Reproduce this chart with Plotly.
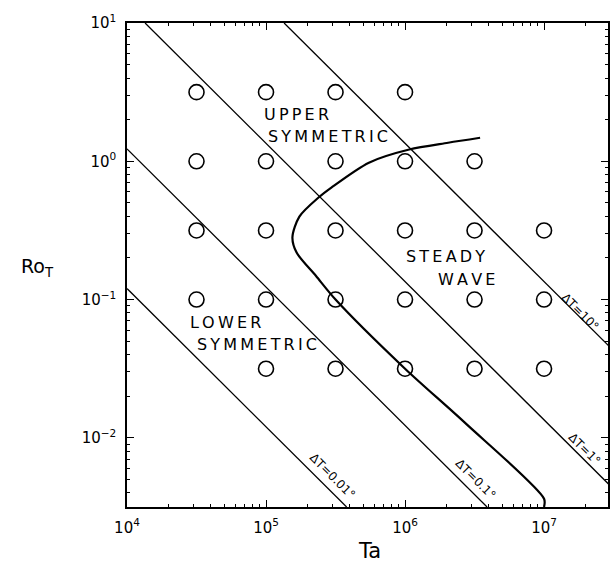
import plotly.graph_objects as go

# ---- data (log10 values) ----
circle_logTa = [4.5, 5, 5.5, 6,
                4.5, 5, 5.5, 6, 6.5,
                4.5, 5, 5.5, 6, 6.5, 7,
                4.5, 5, 5.5, 6, 6.5, 7,
                5, 5.5, 6, 6.5, 7]
circle_logRo = [0.5, 0.5, 0.5, 0.5,
                0, 0, 0, 0, 0,
                -0.5, -0.5, -0.5, -0.5, -0.5, -0.5,
                -1, -1, -1, -1, -1, -1,
                -1.5, -1.5, -1.5, -1.5, -1.5]

# constant-deltaT lines: endpoints where they meet the frame
dT_labels = ["ΔT=0.01°", "ΔT=0.1°", "ΔT=1°", "ΔT=10°"]
dT_logTa = [[4.0, 5.58], [4.0, 6.59], [4.13, 7.48], [5.13, 7.48]]
dT_logRo = [[-0.92, -2.5], [0.09, -2.5], [1.0, -2.35], [1.0, -1.35]]
dT_label_logTa = [5.475, 6.505, 7.29, 7.26]
dT_label_logRo = [-2.278, -2.30, -2.08, -1.087]

# regime boundary curve
curve_logTa = [6.54, 6.31, 6.03, 5.74, 5.47, 5.38, 5.24, 5.19, 5.22, 5.36,
               5.50, 6.0, 6.43, 7.0, 7.0]
curve_logRo = [0.17, 0.134, 0.085, -0.01, -0.19, -0.26, -0.40, -0.55, -0.66, -0.83,
               -1.0, -1.5, -1.89, -2.44, -2.5]

regions = [("UPPER", 4.97, 0.336, "left"), ("SYMMETRIC", 5.0, 0.177, "left"),
           ("STEADY", 6.29, -0.69, "center"), ("WAVE", 6.44, -0.856, "center"),
           ("LOWER", 4.437, -1.166, "left"), ("SYMMETRIC", 4.487, -1.325, "left")]

x_tick_exp = [4, 5, 6, 7]
x_tick_text = ["10<sup>4</sup>", "10<sup>5</sup>", "10<sup>6</sup>", "10<sup>7</sup>"]
y_tick_exp = [-2, -1, 0, 1]
y_tick_text = ["10<sup>−2</sup>", "10<sup>−1</sup>", "10<sup>0</sup>", "10<sup>1</sup>"]

FONT = "DejaVu Sans"


def spaced(s):
    return "\u2009".join(s)


fig = go.Figure()
for tx, ry in zip(dT_logTa, dT_logRo):
    fig.add_trace(go.Scatter(x=[10 ** v for v in tx], y=[10 ** v for v in ry],
                             mode="lines", line=dict(color="black", width=1.3),
                             showlegend=False, hoverinfo="skip"))
fig.add_trace(go.Scatter(x=[10 ** v for v in curve_logTa], y=[10 ** v for v in curve_logRo],
                         mode="lines", line=dict(color="black", width=2.2, shape="spline", smoothing=0.8),
                         showlegend=False))
fig.add_trace(go.Scatter(x=[10 ** v for v in circle_logTa], y=[10 ** v for v in circle_logRo],
                         mode="markers",
                         marker=dict(symbol="circle-open", size=15, color="black",
                                     line=dict(width=1.6, color="black")),
                         showlegend=False))

for lab, lx, ly in zip(dT_labels, dT_label_logTa, dT_label_logRo):
    fig.add_annotation(x=lx, y=ly, text=lab, showarrow=False, textangle=45,
                       font=dict(family=FONT, size=12, color="black"))

for txt, lx, ly, anc in regions:
    fig.add_annotation(x=lx, y=ly, text=spaced(txt), showarrow=False, xanchor=anc,
                       font=dict(family=FONT, size=16, color="black"))

fig.add_annotation(xref="paper", yref="paper", x=-0.186, y=0.494, text="Ro<sub>T</sub>",
                   xanchor="center", yanchor="middle",
                   showarrow=False, font=dict(family=FONT, size=19, color="black"))
fig.add_annotation(xref="paper", yref="paper", x=0.505, y=-0.091, text="Ta",
                   xanchor="center", yanchor="middle",
                   showarrow=False, font=dict(family=FONT, size=21, color="black"))

minor_x = [m * 10 ** e for e in range(4, 8) for m in range(2, 10)]
minor_y = [m * 10 ** e for e in range(-3, 1) for m in range(2, 10)]

axis_common = dict(type="log", showgrid=False,
                   zeroline=False, showline=True, linecolor="black", linewidth=1.5,
                   mirror="ticks", ticks="inside", ticklen=7, tickwidth=1.2,
                   tickcolor="black", ticklabelstandoff=6,
                   tickfont=dict(family=FONT, size=15, color="black"))

fig.update_layout(
    width=613, height=562,
    margin=dict(l=127, r=3, t=23, b=55),
    plot_bgcolor="white", paper_bgcolor="white",
    xaxis=dict(range=[4, 7.46], tickvals=[10 ** e for e in x_tick_exp], ticktext=x_tick_text,
               minor=dict(ticks="inside", ticklen=3, tickwidth=1, tickcolor="black",
                          tickvals=minor_x, showgrid=False),
               **axis_common),
    yaxis=dict(range=[-2.5, 1], tickvals=[10 ** e for e in y_tick_exp], ticktext=y_tick_text,
               minor=dict(ticks="inside", ticklen=3, tickwidth=1, tickcolor="black",
                          tickvals=minor_y, showgrid=False),
               **axis_common),
    showlegend=False,
)

fig.write_html("out.html", config={"displayModeBar": False},
               post_script="document.body.style.margin='0';")
